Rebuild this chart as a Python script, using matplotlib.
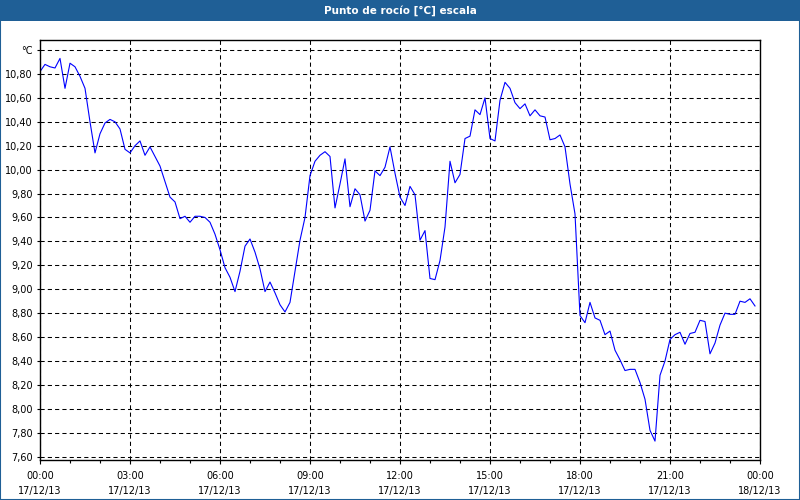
import matplotlib
matplotlib.use("Agg")
import matplotlib.pyplot as plt
from matplotlib.patches import Rectangle
from matplotlib.ticker import MultipleLocator, FixedLocator
import numpy as np

# dew point, one reading every 10 minutes (17/12/13 00:00 .. 23:50)
hours = [i / 6 for i in range(144)]
dew_point = [
    10.82, 10.88, 10.86, 10.85, 10.93, 10.68, 10.89, 10.86, 10.78, 10.68,
    10.40, 10.14, 10.30, 10.39, 10.42, 10.40, 10.34, 10.17, 10.14, 10.20,
    10.24, 10.12, 10.19, 10.11, 10.03, 9.90, 9.77, 9.73, 9.59, 9.61,
    9.56, 9.61, 9.61, 9.60, 9.56, 9.46, 9.33, 9.18, 9.10, 8.98,
    9.15, 9.36, 9.42, 9.31, 9.17, 8.98, 9.06, 8.97, 8.87, 8.81,
    8.89, 9.15, 9.41, 9.60, 9.95, 10.07, 10.12, 10.15, 10.11, 9.68,
    9.88, 10.09, 9.69, 9.84, 9.79, 9.57, 9.66, 9.99, 9.95, 10.02,
    10.19, 9.97, 9.77, 9.70, 9.86, 9.79, 9.41, 9.49, 9.09, 9.08,
    9.24, 9.52, 10.07, 9.89, 9.96, 10.26, 10.28, 10.50, 10.46, 10.60,
    10.26, 10.24, 10.58, 10.73, 10.68, 10.56, 10.51, 10.55, 10.45, 10.50,
    10.45, 10.44, 10.25, 10.26, 10.29, 10.19, 9.88, 9.63, 8.78, 8.72,
    8.89, 8.76, 8.74, 8.62, 8.65, 8.49, 8.41, 8.32, 8.33, 8.33,
    8.22, 8.08, 7.82, 7.73, 8.28, 8.40, 8.58, 8.62, 8.64, 8.54,
    8.63, 8.64, 8.74, 8.73, 8.46, 8.55, 8.70, 8.80, 8.79, 8.79,
    8.90, 8.89, 8.92, 8.86,
]

major_hours = [0, 3, 6, 9, 12, 15, 18, 21, 24]
x_labels = ["00:00\n17/12/13", "03:00\n17/12/13", "06:00\n17/12/13",
            "09:00\n17/12/13", "12:00\n17/12/13", "15:00\n17/12/13",
            "18:00\n17/12/13", "21:00\n17/12/13", "00:00\n18/12/13"]
y_ticks = [round(7.6 + 0.2 * k, 1) for k in range(18)]
y_labels = [f"{v:.2f}".replace(".", ",") for v in y_ticks[:-1]] + ["°C"]

title = "Punto de rocío [°C] escala"
BAR = "#1f5f96"

plt.rcParams['font.family'] = ['DejaVu Sans']

fig = plt.figure(figsize=(8, 5), dpi=100, facecolor="white")

# title bar + window border
fig.patches.append(Rectangle((0, 0.958), 1, 0.042, transform=fig.transFigure,
                             facecolor=BAR, edgecolor="none", zorder=0))
fig.patches.append(Rectangle((0.0006, 0.001), 0.9988, 0.998, transform=fig.transFigure,
                             facecolor="none", edgecolor=BAR, linewidth=1.5, zorder=1))
fig.text(0.5, 0.979, title, color="white", fontsize=7.5, fontweight="bold",
         ha="center", va="center")

ax = fig.add_axes([0.05, 0.08, 0.9, 0.84])
ax.plot(hours, dew_point, color="#0000ff", linewidth=0.8)

ax.set_xlim(0, 24)
ax.set_ylim(7.572, 11.084)

ax.xaxis.set_major_locator(FixedLocator(major_hours))
ax.set_xticklabels(x_labels)
ax.xaxis.set_minor_locator(MultipleLocator(1))
ax.set_yticks(y_ticks)
ax.set_yticklabels(y_labels)

ax.tick_params(axis="x", which="major", length=3, width=0.8, pad=5, labelsize=7)
ax.tick_params(axis="x", which="minor", length=2, width=0.8)
ax.tick_params(axis="y", length=2, width=0.8, pad=3, labelsize=7)
for lbl in ax.get_xticklabels():
    lbl.set_linespacing(1.55)

ax.grid(True, which="major", color="black", linestyle=(0, (4, 3)), linewidth=0.75)
for s in ax.spines.values():
    s.set_color("black")
    s.set_linewidth(1.0)

fig.savefig("out.png", dpi=100, facecolor="white")
